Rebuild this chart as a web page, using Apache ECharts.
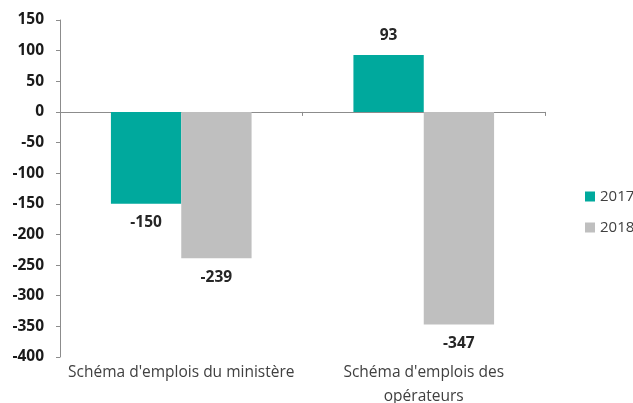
<!DOCTYPE html>
<html>
<head>
<meta charset="utf-8">
<script src="https://cdn.jsdelivr.net/npm/echarts@6/dist/echarts.min.js"></script>
<style>
  html, body { margin: 0; padding: 0; background: #fff; }
  #chart { width: 633px; height: 403px; }
</style>
</head>
<body>
<div id="chart"></div>
<script>
// Categories and yearly values
const categories = ["Schéma d'emplois du ministère", "Schéma d'emplois des\nopérateurs"];
const years = ['2017', '2018'];
const values2017 = [-150, 93];
const values2018 = [-239, -347];
const yTicks = { min: -400, max: 150, step: 50 };

const colors = { '2017': '#00A99D', '2018': '#BFBFBF' };
const font = '"Open Sans", "DejaVu Sans", sans-serif';

function labelFor(v) {
  return {
    show: true,
    position: v < 0 ? 'bottom' : 'top',
    distance: 11,
    fontFamily: font,
    fontWeight: 'bold',
    fontSize: 15.5,
    color: '#262626'
  };
}

function seriesData(vals) {
  return vals.map(v => ({ value: v, label: labelFor(v) }));
}

const chart = echarts.init(document.getElementById('chart'), null, { renderer: 'canvas' });
chart.setOption({
  animation: false,
  backgroundColor: '#fff',
  grid: { left: 60, right: 88, top: 20, bottom: 46, containLabel: false, outerBoundsMode: 'none' },
  legend: {
    orient: 'vertical',
    left: 580,
    top: 184,
    itemWidth: 10,
    itemHeight: 10,
    itemGap: 16,
    icon: 'rect',
    textStyle: { fontFamily: font, fontSize: 15, color: '#404040' },
    data: years
  },
  xAxis: [
    {
      type: 'category',
      data: categories,
      axisLine: { onZero: true, lineStyle: { color: '#8c8c8c', width: 1 } },
      axisTick: { show: true, length: 4, lineStyle: { color: '#8c8c8c' } },
      axisLabel: { show: false }
    },
    {
      type: 'category',
      data: categories,
      position: 'bottom',
      axisLine: { show: false, onZero: false },
      axisTick: { show: false },
      axisLabel: {
        show: true,
        interval: 0,
        margin: 4,
        fontFamily: font,
        fontSize: 15.5,
        lineHeight: 24,
        color: '#404040'
      }
    }
  ],
  yAxis: {
    type: 'value',
    min: yTicks.min,
    max: yTicks.max,
    interval: yTicks.step,
    splitLine: { show: false },
    axisLine: { show: true, lineStyle: { color: '#8c8c8c' } },
    axisTick: { show: true, length: 4, lineStyle: { color: '#8c8c8c' } },
    axisLabel: {
      margin: 16,
      fontFamily: font,
      fontWeight: 'bold',
      fontSize: 15.5,
      color: '#1a1a1a'
    }
  },
  series: [
    {
      name: '2017',
      type: 'bar',
      xAxisIndex: 0,
      data: seriesData(values2017),
      itemStyle: { color: colors['2017'] },
      barGap: '0%',
      barCategoryGap: '42%'
    },
    {
      name: '2018',
      type: 'bar',
      xAxisIndex: 0,
      data: seriesData(values2018),
      itemStyle: { color: colors['2018'] },
      barGap: '0%',
      barCategoryGap: '42%'
    }
  ]
});
</script>
</body>
</html>
